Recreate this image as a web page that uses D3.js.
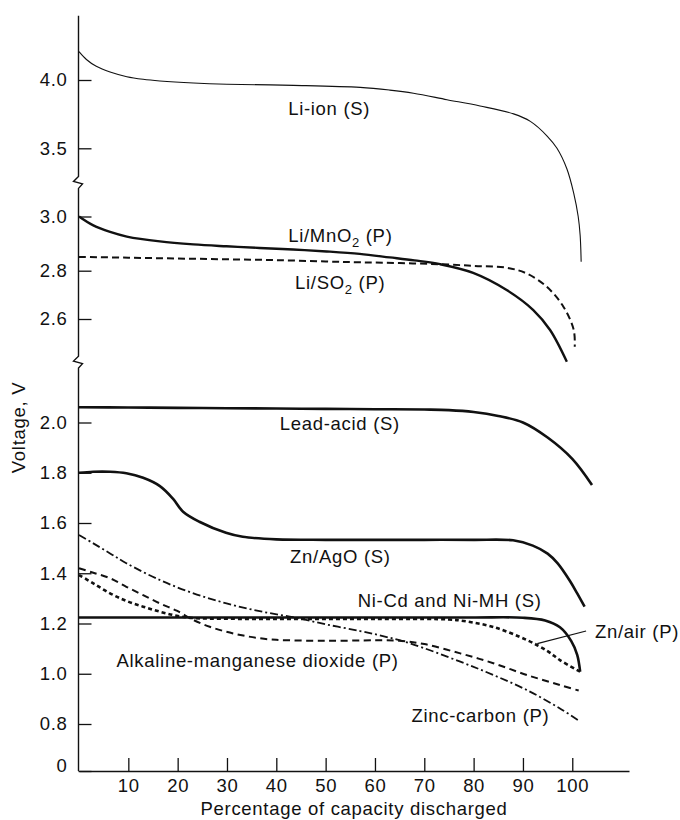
<!DOCTYPE html>
<html><head><meta charset="utf-8">
<script src="https://cdn.jsdelivr.net/npm/d3@7"></script>
<style>
body{margin:0;background:#fff}
svg{display:block}
text{font-family:"Liberation Sans",Arial,Helvetica,sans-serif;fill:#111}
</style>
</head><body><div id="chart"></div>
<script>
// ---------- data ----------
const xTicks = [10,20,30,40,50,60,70,80,90,100];
const yTicks = [0,0.8,1.0,1.2,1.4,1.6,1.8,2.0,2.6,2.8,3.0,3.5,4.0];
const yBreaks = [2.35,3.25];

const liIon = [[0,4.207],[1.5,4.15],[3.5,4.1],[6.3,4.058],[9.7,4.024],[13,4.005],[16.4,3.993],[23.2,3.978],[30,3.969],[43.5,3.961],[57,3.946],[63,3.926],[67.8,3.903],[74.6,3.856],[81.3,3.81],[88.1,3.752],[91.5,3.697],[94.9,3.59],[96.9,3.5],[98.9,3.35],[100.3,3.17],[101.2,3.0],[101.6,2.93],[101.8,2.833]];
const liMnO2 = [[0,3.0],[2.9,2.967],[6.3,2.943],[9.7,2.926],[16.4,2.908],[23.2,2.897],[29.9,2.89],[36.6,2.884],[43.4,2.878],[50.2,2.871],[56.9,2.862],[63,2.849],[68,2.838],[73.2,2.824],[79.9,2.791],[86.7,2.72],[92.1,2.637],[95.5,2.536],[98.9,2.352]];
const liSO2 = [[0,2.851],[10,2.848],[20,2.845],[30,2.842],[40,2.839],[50,2.834],[57,2.831],[65,2.828],[73,2.824],[80,2.818],[86.7,2.811],[90.7,2.789],[94.8,2.734],[98.2,2.651],[100.3,2.536],[100.5,2.439]];
const leadAcid = [[0,2.088],[10,2.087],[20,2.085],[30,2.083],[40,2.081],[50,2.079],[60,2.077],[70,2.075],[75,2.072],[80,2.061],[85,2.038],[90,2.0],[95,1.94],[100,1.855],[104,1.751]];
const znAgO = [[0,1.80],[2.9,1.804],[6.3,1.804],[9.6,1.798],[13,1.78],[16.4,1.747],[19,1.698],[21.1,1.645],[24.4,1.605],[29.8,1.561],[33.2,1.545],[40,1.535],[50,1.533],[60,1.533],[70,1.533],[80,1.533],[88,1.531],[92,1.51],[95,1.478],[97,1.44],[99.5,1.37],[101,1.32],[102.5,1.267]];
const niCd = [[0,1.224],[20,1.224],[40,1.224],[60,1.224],[80,1.224],[90,1.223],[94.5,1.212],[97.5,1.185],[99.8,1.13],[101,1.075],[101.6,1.008]];
const znAir = [[0,1.393],[2.9,1.36],[6.3,1.32],[9.6,1.29],[13,1.267],[16.4,1.247],[19.8,1.231],[23,1.222],[30,1.219],[40,1.218],[50,1.218],[60,1.218],[70,1.218],[75,1.216],[78,1.21],[84,1.186],[90.8,1.134],[95,1.09],[97.5,1.054],[101.6,1.008]];
const alkaline = [[0,1.42],[2.9,1.402],[6.3,1.38],[9.6,1.346],[13,1.313],[16.4,1.28],[19.8,1.251],[23.2,1.214],[26.5,1.187],[29.9,1.167],[33.3,1.152],[36.7,1.141],[40,1.135],[50,1.131],[60,1.133],[65,1.131],[70,1.118],[77.3,1.081],[84,1.042],[90.8,0.995],[97.5,0.955],[101.3,0.933]];
const zincCarbon = [[0,1.552],[2.9,1.519],[6.3,1.479],[9.6,1.44],[16.4,1.373],[23.2,1.32],[29.9,1.28],[36.6,1.249],[43.4,1.225],[50.2,1.196],[57,1.17],[62,1.148],[67.1,1.121],[77.3,1.048],[84,0.995],[90.8,0.935],[97.5,0.862],[101.3,0.814]];

// ---------- layout / styles ----------
const W = 680, H = 820;
const svg = d3.select("#chart").append("svg").attr("width", W).attr("height", H);

const x = d3.scaleLinear().domain([0, 111.5]).range([79, 629]);
// broken axis: three panels mapped piecewise
const y = d3.scaleLinear()
  .domain([0, 0.8, 2.0, 2.6, 2.8, 3.0, 3.5, 4.0])
  .range([771, 724, 422.5, 319, 270.7, 216.5, 148.3, 80]);

const series = [
  {data: liIon,      w: 1.1, dash: null},
  {data: liMnO2,     w: 2.4, dash: null},
  {data: liSO2,      w: 2.0, dash: "7,4"},
  {data: leadAcid,   w: 2.6, dash: null},
  {data: znAgO,      w: 2.6, dash: null},
  {data: niCd,       w: 2.6, dash: null},
  {data: znAir,      w: 2.6, dash: "4,3"},
  {data: alkaline,   w: 2.0, dash: "7,4.5"},
  {data: zincCarbon, w: 1.8, dash: "8,3,2,3"}
];

const labels = [
  {t: "Li-ion (S)",          px: 42.4, v: 3.744},
  {t: "Li/MnO", sub: "2", rest: " (P)", px: 42.4, v: 2.906},
  {t: "Li/SO",  sub: "2", rest: " (P)", px: 43.8, v: 2.724},
  {t: "Lead-acid (S)",       px: 40.7, v: 1.970},
  {t: "Zn/AgO (S)",          px: 42.8, v: 1.440},
  {t: "Ni-Cd and Ni-MH (S)", px: 56.5, v: 1.267},
  {t: "Zn/air (P)",          px: 104.6, v: 1.141},
  {t: "Alkaline-manganese dioxide (P)", px: 7.6, v: 1.028},
  {t: "Zinc-carbon (P)",     px: 67.4, v: 0.809}
];
const leader = [[102.8, 1.170],[92.9, 1.120]];

const FS = 18.5, LS = 0.7;

// ---------- axes ----------
const yAxis = d3.axisLeft(y).tickValues(yTicks)
  .tickFormat(v => v === 0 ? "0" : d3.format(".1f")(v))
  .tickSize(-13).tickPadding(11);
const gy = svg.append("g").attr("transform", "translate(78.5,0)").call(yAxis);
gy.select(".domain").remove();
gy.selectAll(".tick line").attr("stroke", "#111").attr("stroke-width", 1.3);
gy.selectAll(".tick text").attr("font-size", FS).attr("letter-spacing", LS)
  .attr("fill", "#111").style("font-family", '"Liberation Sans",Arial,sans-serif');
gy.selectAll(".tick").filter(d => d === 0).select("text").attr("dy", "0.05em");

const xAxis = d3.axisBottom(x).tickValues(xTicks).tickSize(-13).tickSizeOuter(0).tickPadding(8);
const gx = svg.append("g").attr("transform", `translate(0,${y(0)})`).call(xAxis);
gx.select(".domain").attr("stroke", "#111").attr("stroke-width", 1.5);
gx.selectAll(".tick line").attr("stroke", "#111").attr("stroke-width", 1.3);
gx.selectAll(".tick text").attr("font-size", FS).attr("letter-spacing", LS)
  .attr("fill", "#111").style("font-family", '"Liberation Sans",Arial,sans-serif');

// y axis line with zigzag break marks
const ax = 78.5;
const yTop = y(4.47), yBot = y(0);
let d = `M${ax},${yTop}`;
yBreaks.slice().reverse().forEach(b => {
  const yb = y(b);
  d += ` L${ax},${yb-6} L${ax-5},${yb-1} L${ax+4},${yb+1.5} L${ax},${yb+6}`;
});
d += ` L${ax},${yBot}`;
svg.append("path").attr("d", d).attr("fill", "none").attr("stroke", "#111").attr("stroke-width", 1.4);

// axis titles
svg.append("text").attr("x", 354).attr("y", 814.5).attr("text-anchor", "middle")
  .attr("font-size", FS).attr("letter-spacing", LS).text("Percentage of capacity discharged");
svg.append("text").attr("transform", "translate(25,427.5) rotate(-90)").attr("text-anchor", "middle")
  .attr("font-size", FS).attr("letter-spacing", LS).text("Voltage, V");

// ---------- curves ----------
const line = d3.line().x(p => x(p[0])).y(p => y(p[1])).curve(d3.curveCatmullRom.alpha(0.5));
svg.append("g").selectAll("path").data(series).join("path")
  .attr("d", s => line(s.data))
  .attr("fill", "none").attr("stroke", "#111")
  .attr("stroke-width", s => s.w)
  .attr("stroke-dasharray", s => s.dash)
  .attr("stroke-linejoin", "round");

// leader for Zn/air
svg.append("line")
  .attr("x1", x(leader[0][0])).attr("y1", y(leader[0][1]))
  .attr("x2", x(leader[1][0])).attr("y2", y(leader[1][1]))
  .attr("stroke", "#111").attr("stroke-width", 1.2);

// ---------- labels ----------
const lg = svg.append("g");
labels.forEach(l => {
  const t = lg.append("text").attr("x", x(l.px)).attr("y", y(l.v))
    .attr("font-size", FS).attr("letter-spacing", LS);
  t.append("tspan").text(l.t);
  if (l.sub) {
    t.append("tspan").attr("font-size", 13).attr("dy", 5).text(l.sub);
    t.append("tspan").attr("dy", -5).text(l.rest);
  }
});
</script>
</body></html>
